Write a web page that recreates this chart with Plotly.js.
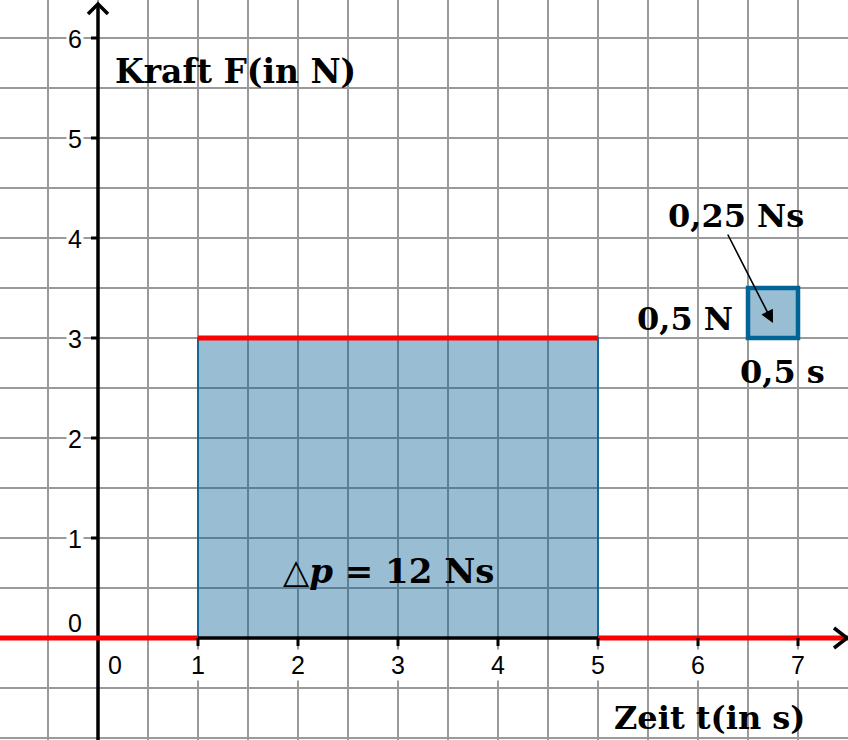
<!DOCTYPE html>
<html>
<head>
<meta charset="utf-8">
<script src="https://cdn.plot.ly/plotly-3.0.1.min.js"></script>
<style>html,body{margin:0;padding:0;background:#fff;}#chart{width:848px;height:740px;}</style>
</head>
<body>
<div id="chart"></div>
<script>
// ---- data ----
const tTicks = [0, 1, 2, 3, 4, 5, 6, 7];
const fTicks = [0, 1, 2, 3, 4, 5, 6];
const segStart = [-0.98, 1, 5];
const segEnd = [1, 5, 7.5];
const segForce = [0, 3, 0];
const impulseT = [1, 5];
const impulseF = [0, 3];
const unitT = [6.5, 7];
const unitF = [3, 3.5];
const xRange = [-0.98, 7.5];
const yRange = [-1.02, 6.38];
const axisLabelF = "Kraft F(in N)";
const axisLabelT = "Zeit t(in s)";
const impulseLabel = "△<i>p</i> = 12 Ns";
const unitAreaLabel = "0,25 Ns";
const unitFLabel = "0,5 N";
const unitTLabel = "0,5 s";

// ---- red force function ----
const fx = [], fy = [];
for (let i = 0; i < segStart.length; i++) {
  fx.push(segStart[i], segEnd[i], null);
  fy.push(segForce[i], segForce[i], null);
}
const traces = [{
  x: fx, y: fy, type: 'scatter', mode: 'lines',
  line: {color: '#ff0000', width: 5}, hoverinfo: 'skip', connectgaps: false
}];

const shapes = [
  {type: 'rect', xref: 'x', yref: 'y', x0: impulseT[0], x1: impulseT[1], y0: impulseF[0], y1: impulseF[1],
   fillcolor: 'rgba(0,92,147,0.4)', line: {color: 'rgb(21,101,151)', width: 2}, layer: 'between'},
  {type: 'line', xref: 'x', yref: 'y', x0: xRange[0], x1: xRange[1] - 0.01, y0: 0, y1: 0,
   line: {color: '#000', width: 3.5}, layer: 'between'},
  {type: 'line', xref: 'x', yref: 'y', x0: 0, x1: 0, y0: yRange[0], y1: yRange[1] - 0.04,
   line: {color: '#000', width: 3.5}, layer: 'between'},
  {type: 'rect', xref: 'x', yref: 'y', x0: unitT[0], x1: unitT[1], y0: unitF[0], y1: unitF[1],
   fillcolor: 'rgba(0,92,147,0.4)', line: {color: 'rgb(0,100,150)', width: 4.5}, layer: 'above'},
  // arrow chevrons
  {type: 'path', xref: 'x', yref: 'y', xsizemode: 'pixel', ysizemode: 'pixel',
   xanchor: xRange[1] - 0.01, yanchor: 0, path: 'M-13,10 L0,0 L-13,-10',
   line: {color: '#000', width: 3.5}, layer: 'above'},
  {type: 'path', xref: 'x', yref: 'y', xsizemode: 'pixel', ysizemode: 'pixel',
   xanchor: 0, yanchor: yRange[1] - 0.04, path: 'M-10,-10 L0,0 L10,-10',
   line: {color: '#000', width: 3.5}, layer: 'above'}
];
tTicks.forEach(t => {
  if (t === 0) return;
  shapes.push({type: 'line', xref: 'x', yref: 'y', x0: t, x1: t, ysizemode: 'pixel', yanchor: 0,
    y0: 0, y1: -8, line: {color: '#000', width: 3}, layer: 'above'});
});
fTicks.forEach(f => {
  if (f === 0) return;
  shapes.push({type: 'line', xref: 'x', yref: 'y', y0: f, y1: f, xsizemode: 'pixel', xanchor: 0,
    x0: 0, x1: -7, line: {color: '#000', width: 3}, layer: 'above'});
});

const tickFont = {family: 'Liberation Sans, Arial, sans-serif', size: 25, color: '#000'};
const annotations = [];
tTicks.forEach(t => {
  annotations.push({x: t, y: 0, xref: 'x', yref: 'y', text: String(t), showarrow: false,
    xanchor: 'center', yanchor: 'middle', xshift: t === 0 ? 17 : 0, yshift: -27,
    font: tickFont, bgcolor: '#fff', borderpad: 1});
});
fTicks.forEach(f => {
  annotations.push({x: 0, y: f, xref: 'x', yref: 'y', text: String(f), showarrow: false,
    xanchor: 'right', yanchor: 'middle', xshift: -14, yshift: f === 0 ? 15 : -1,
    font: tickFont, bgcolor: f === 0 ? 'rgba(0,0,0,0)' : '#fff', borderpad: 1});
});
const bigFont = {family: 'DejaVu Serif, serif', size: 33, color: '#000', weight: 'bold'};
const tFont = {family: 'DejaVu Serif, serif', size: 32, color: '#000', weight: 'bold'};
const pFont = {family: 'DejaVu Serif, serif', size: 34, color: '#000', weight: 'bold'};
const midFont = {family: 'DejaVu Serif, serif', size: 32, color: '#000', weight: 'bold'};
annotations.push(
  {x: 0.15, y: 5.67, xref: 'x', yref: 'y', text: axisLabelF, showarrow: false, xanchor: 'left', yanchor: 'middle', font: bigFont},
  {x: 5.14, y: -0.80, xref: 'x', yref: 'y', text: axisLabelT, showarrow: false, xanchor: 'left', yanchor: 'middle', font: tFont},
  {x: 2.9, y: 0.67, xref: 'x', yref: 'y', text: impulseLabel, showarrow: false, xanchor: 'center', yanchor: 'middle', font: pFont},
  {x: 6.38, y: 4.22, xref: 'x', yref: 'y', text: unitAreaLabel, showarrow: false, xanchor: 'center', yanchor: 'middle', font: midFont},
  {x: 5.87, y: 3.19, xref: 'x', yref: 'y', text: unitFLabel, showarrow: false, xanchor: 'center', yanchor: 'middle', font: midFont},
  {x: 6.84, y: 2.66, xref: 'x', yref: 'y', text: unitTLabel, showarrow: false, xanchor: 'center', yanchor: 'middle', font: midFont},
  {x: 6.75, y: 3.15, xref: 'x', yref: 'y', ax: 6.29, ay: 4.05, axref: 'x', ayref: 'y', text: '',
   showarrow: true, arrowhead: 2, arrowsize: 1.6, arrowwidth: 1.6, arrowcolor: '#000', standoff: 0}
);

const layout = {
  width: 848, height: 740,
  margin: {l: 0, r: 0, t: 0, b: 0, pad: 0},
  paper_bgcolor: '#fff', plot_bgcolor: '#fff',
  showlegend: false,
  xaxis: {range: xRange, tick0: 0, dtick: 0.5, showgrid: true, gridcolor: '#9a9a9a', gridwidth: 1.5,
          zeroline: false, showticklabels: false, ticks: '', showline: false, fixedrange: true},
  yaxis: {range: yRange, tick0: 0, dtick: 0.5, showgrid: true, gridcolor: '#9a9a9a', gridwidth: 1.5,
          zeroline: false, showticklabels: false, ticks: '', showline: false, fixedrange: true},
  shapes: shapes,
  annotations: annotations
};
Plotly.newPlot('chart', traces, layout, {displayModeBar: false, staticPlot: true});
</script>
</body>
</html>
